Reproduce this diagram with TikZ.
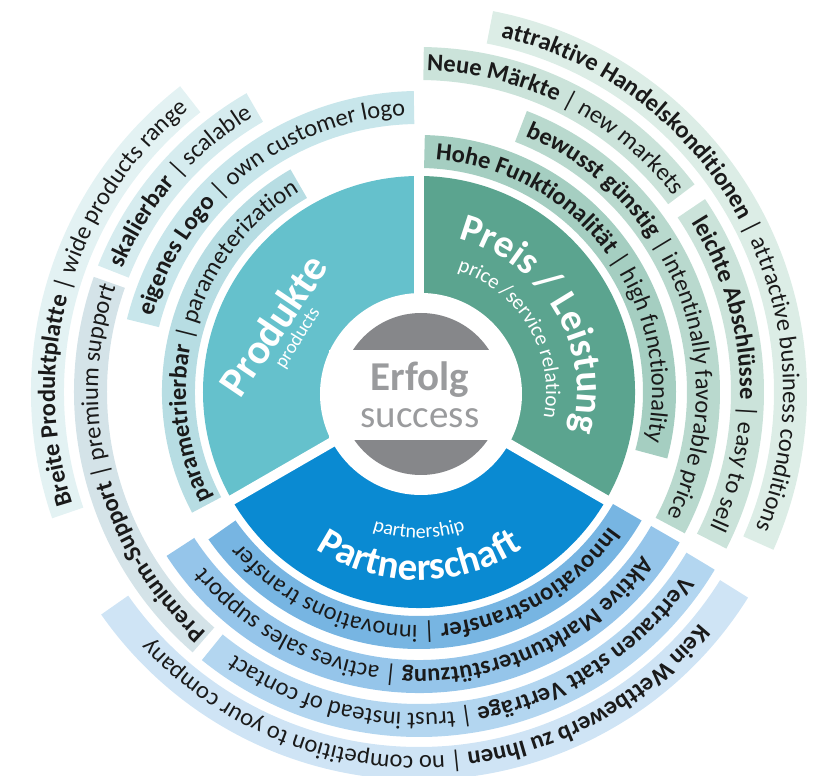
\documentclass[tikz,border=0pt]{standalone}
\usepackage{fontspec}
\setmainfont{Carlito}
\usetikzlibrary{decorations.text}
\definecolor{prodC}{HTML}{65C1CC}
\definecolor{preisC}{HTML}{5BA48F}
\definecolor{partC}{HTML}{0A8AD2}
\definecolor{grayC}{HTML}{86878A}
\definecolor{erfC}{HTML}{9A9B9D}
\definecolor{p1}{HTML}{B7DDE3}
\definecolor{p2}{HTML}{C8E6EB}
\definecolor{p3}{HTML}{D6ECEF}
\definecolor{p4}{HTML}{E3F2F3}
\definecolor{pm}{HTML}{D4E3E8}
\definecolor{q1}{HTML}{A5CEC1}
\definecolor{q2}{HTML}{B9D9CE}
\definecolor{q3}{HTML}{CBE3DA}
\definecolor{q4}{HTML}{DCEDE6}
\definecolor{b1}{HTML}{77B5E2}
\definecolor{b2}{HTML}{95C5EA}
\definecolor{b3}{HTML}{B3D6F0}
\definecolor{b4}{HTML}{CFE4F5}
\definecolor{txt}{HTML}{1A1A1A}
\newcommand\fb{\fontsize{24.5}{28}\selectfont\bfseries}
\newcommand\fr{\fontsize{24.5}{28}\selectfont\mdseries}
% color, r_in, r_out, r_base, start angle, end angle, text  (clockwise: start > end)
\newcommand\band[7]{%
  \fill[#1] (#5:#2pt) arc[start angle=#5,end angle=#6,radius=#2pt] -- (#6:#3pt) arc[start angle=#6,end angle=#5,radius=#3pt] -- cycle;
  \path[decorate,decoration={text along path,text align=center,text color=txt,text format delimiters={[}{]},text={#7}}] ({#5+8}:#4pt) arc[start angle={#5+8},end angle={#6-8},radius=#4pt];
}
\begin{document}
\begin{tikzpicture}[x=1pt,y=1pt]
\useasboundingbox (-419,-384) rectangle (398,392);
% sectors
\fill[prodC] (0,0) -- (90:216pt) arc[start angle=90,end angle=210,radius=216pt] -- cycle;
\fill[preisC] (0,0) -- (-30:216pt) arc[start angle=-30,end angle=90,radius=216pt] -- cycle;
\fill[partC] (0,0) -- (210:216pt) arc[start angle=210,end angle=330,radius=216pt] -- cycle;
\foreach \a in {90,210,330} \draw[white,line width=10pt] (0,0) -- (\a:222pt);
\fill[white] (2,-2) circle[radius=101pt];
\fill[grayC] (2,-2) circle[radius=81pt];
\fill[white] (-90,-48) rectangle (90,42);
\node[text=erfC,font=\fontsize{41}{45}\selectfont\bfseries] (erf) at (1,12) {Erfolg};
\node[text=erfC,font=\fontsize{39}{43}\selectfont] (suc) at (1,-26) {success};
% sector labels
\node[text=white,rotate=56,font=\fontsize{42}{46}\selectfont\bfseries] (prod) at (-146,67) {Produkte};
\node[text=white,rotate=58,font=\fontsize{19}{21}\selectfont] (prods) at (-121,54) {products};
\path[decorate,decoration={text along path,text align=center,text color=white,text format delimiters={[}{]},text={[\fontsize{39}{43}\selectfont\bfseries]Preis / Leistung}}] (80:158pt) arc[start angle=80,end angle=-19,radius=158pt];
\path[decorate,decoration={text along path,text align=center,text color=white,text format delimiters={[}{]},text={[\fontsize{21}{23}\selectfont]price /service relation}}] (80:127pt) arc[start angle=80,end angle=-19,radius=127pt];
\path[decorate,decoration={text along path,text align=center,text color=white,text format delimiters={[}{]},text={[\fontsize{39}{43}\selectfont\bfseries]Partnerschaft}}] (228:188pt) arc[start angle=228,end angle=312,radius=188pt];
\path[decorate,decoration={text along path,text align=center,text color=white,text format delimiters={[}{]},text={[\fontsize{20}{22}\selectfont]partnership}}] (228:146pt) arc[start angle=228,end angle=312,radius=146pt];
% Produkte bands
\band{p1}{224}{257}{233}{208}{120}{[\fb]parametrierbar[\fr] | parameterization}
\band{p2}{268}{301}{277}{166}{91}{[\fb]eigenes Logo[\fr] | own customer logo}
\band{p3}{312}{345}{321}{158.5}{120}{[\fb]skalierbar[\fr] | scalable}
\band{p4}{355}{388}{364}{199}{128}{[\fb]Breite Produktplatte[\fr] | wide products range}
\band{pm}{312}{345}{321}{229}{160.5}{[\fb]Premium-Support[\fr] | premium support}
% Preis bands
\band{q1}{224}{257}{233}{88.7}{-15}{[\fb]Hohe Funktionalität[\fr] | high functionality}
\band{q2}{268}{301}{277}{69}{-28}{[\fb]bewusst günstig[\fr] | intentinally favorable price}
\band{q3}{312}{345}{321}{89.2}{37}{[\fb]Neue Märkte[\fr] | new markets}
\band{q3}{312}{345}{321}{34}{-27}{[\fb]leichte Abschlüsse[\fr] | easy to sell}
\band{q4}{355}{388}{364}{79}{-24}{[\fb]attraktive Handelskonditionen[\fr] | attractive business conditions}
% Partnerschaft bands
\band{b1}{224}{257}{233}{330}{215}{[\fb]Innovationstransfer[\fr] | innovations transfer}
\band{b2}{268}{301}{277}{330}{213}{[\fb]Aktive Marktunterstützung[\fr] | actives sales support}
\band{b3}{312}{345}{321}{329}{231}{[\fb]Vertrauen statt Verträge[\fr] | trust instead of contact}
\band{b4}{355}{388}{364}{328}{215}{[\fb]Kein Wettbewerb zu Ihnen[\fr] | no competition to your company}
\end{tikzpicture}
\end{document}
